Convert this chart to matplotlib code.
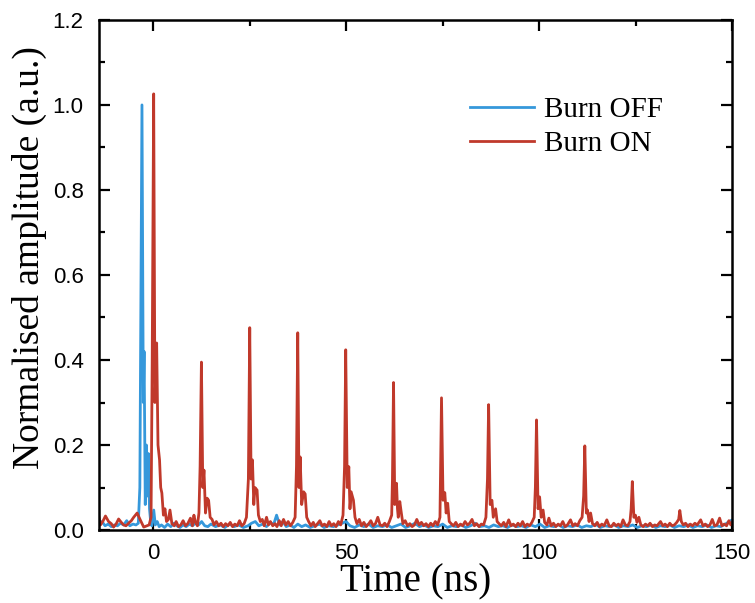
import matplotlib
matplotlib.use('Agg')
import matplotlib.pyplot as plt
from matplotlib.ticker import MultipleLocator, FormatStrFormatter

# Burn OFF trace (time in ns, normalised amplitude)
t_off = [-14.0, -13.2, -12.4, -11.6, -10.8, -10.0, -9.2, -8.4, -7.6, -6.8, -6.0, -5.2, -4.4, -3.8,
         -3.4, -2.85, -2.5, -2.3, -2.0, -1.7, -1.45, -1.2, -0.9, -0.6, -0.3,
         0.2, 0.6, 1.1, 1.6, 2.2, 3.0, 3.8, 4.6, 5.4, 6.2, 7.0, 7.8, 8.6, 9.4, 10.2, 11.0, 11.8,
         12.6, 13.4, 14.2, 15.0, 16.2, 17.4, 18.6, 19.8, 21.0, 22.2, 23.4, 24.6, 25.5, 26.5, 27.4,
         28.4, 29.4, 30.4, 31.2, 32.0, 32.8, 33.6, 34.5, 35.5, 36.5, 37.5, 38.5, 39.5, 40.7, 41.9,
         43.1, 44.3, 45.5, 46.7, 47.9, 49.0, 50.0, 51.0, 52.2, 53.4, 54.6, 55.8, 57.0, 58.2, 59.4,
         60.6, 61.8, 63.0, 64.2, 65.4, 66.6, 67.8, 69.0, 70.2, 71.4, 72.6, 73.8, 75.0, 76.2, 77.4,
         78.6, 79.8, 81.0, 82.2, 83.4, 84.6, 85.8, 87.0, 88.2, 89.4, 90.6, 91.8, 93.0, 94.2, 95.4,
         96.6, 97.8, 99.0, 100.2, 101.4, 102.6, 103.8, 105.0, 106.2, 107.4, 108.6, 109.8, 111.0,
         112.2, 113.4, 114.6, 115.8, 117.0, 118.2, 119.4, 120.6, 121.8, 123.0, 124.2, 125.4, 126.6,
         127.8, 129.0, 130.2, 131.4, 132.6, 133.8, 135.0, 136.2, 137.4, 138.6, 139.8, 141.0, 142.2,
         143.4, 144.6, 145.8, 147.0, 148.2, 149.2, 150.0]
a_off = [0.012, 0.020, 0.010, 0.014, 0.008, 0.012, 0.010, 0.016, 0.012, 0.022, 0.010, 0.014, 0.012, 0.016,
         0.10, 1.0, 0.30, 0.42, 0.06, 0.20, 0.08, 0.18, 0.05, 0.02, 0.010,
         0.047, 0.012, 0.020, 0.008, 0.012, 0.006, 0.014, 0.008, 0.016, 0.010, 0.006, 0.012, 0.008,
         0.014, 0.010, 0.016, 0.012, 0.020, 0.010, 0.008, 0.014, 0.008, 0.012, 0.006, 0.014, 0.008,
         0.012, 0.006, 0.010, 0.016, 0.020, 0.010, 0.014, 0.008, 0.018, 0.012, 0.035, 0.012, 0.020,
         0.008, 0.012, 0.006, 0.014, 0.008, 0.012, 0.006, 0.010, 0.014, 0.006, 0.010, 0.008, 0.012,
         0.016, 0.020, 0.010, 0.006, 0.012, 0.008, 0.014, 0.006, 0.010, 0.008, 0.012, 0.006, 0.010,
         0.014, 0.006, 0.010, 0.016, 0.008, 0.012, 0.006, 0.010, 0.008, 0.014, 0.006, 0.010, 0.008,
         0.012, 0.006, 0.010, 0.016, 0.008, 0.010, 0.006, 0.012, 0.008, 0.010, 0.006, 0.012, 0.008,
         0.010, 0.006, 0.012, 0.008, 0.014, 0.006, 0.010, 0.008, 0.012, 0.006, 0.010, 0.008, 0.012,
         0.006, 0.010, 0.008, 0.014, 0.006, 0.010, 0.008, 0.012, 0.006, 0.010, 0.008, 0.012, 0.006,
         0.010, 0.008, 0.012, 0.006, 0.010, 0.008, 0.012, 0.006, 0.010, 0.008, 0.012, 0.006, 0.010,
         0.008, 0.012, 0.006, 0.010, 0.008, 0.014, 0.020, 0.024]

# Burn ON trace
t_on = [-14.0, -13.6, -13.0, -12.3, -11.5, -10.8, -10.2, -9.5, -8.9, -8.2, -7.6, -7.0, -6.3, -5.6,
        -5.0, -4.1, -3.3, -2.4, -1.6, -1.0, -0.5, -0.2, 0.18, 0.5, 0.95, 1.3, 1.7, 2.0, 2.3, 2.7,
        3.1, 3.5, 4.0, 4.4, 4.9, 5.5, 6.0, 6.6, 7.2, 7.8, 8.4, 9.0, 9.7, 10.2, 10.6, 11.0, 11.5,
        11.9, 12.2, 12.54, 12.9, 13.2, 13.6, 14.0, 14.4, 14.8, 15.3, 15.8, 16.4, 17.0, 17.6, 18.2,
        18.8, 19.4, 20.0, 20.6, 21.2, 21.8, 22.4, 23.0, 23.6, 24.2, 24.7, 25.05, 25.4, 25.75, 26.1,
        26.4, 26.95, 27.3, 27.8, 28.3, 28.8, 29.4, 29.9, 30.4, 31.0, 31.6, 32.1, 32.7, 33.2, 33.8,
        34.4, 35.0, 35.6, 36.2, 36.8, 37.15, 37.48, 37.8, 38.1, 38.5, 39.0, 39.4, 39.8, 40.3, 40.9,
        41.5, 42.0, 42.6, 43.2, 43.8, 44.4, 45.0, 45.6, 46.2, 46.8, 47.4, 48.0, 48.6, 49.2, 49.6,
        49.9, 50.3, 50.7, 51.0, 51.3, 51.9, 52.3, 52.8, 53.4, 54.0, 54.6, 55.2, 55.8, 56.4, 57.0,
        57.6, 58.2, 58.8, 59.4, 60.0, 60.6, 61.2, 61.8, 62.0, 62.28, 62.6, 63.05, 63.3, 63.5, 63.9,
        64.3, 64.7, 65.3, 65.9, 66.5, 67.1, 67.7, 68.3, 68.9, 69.5, 70.1, 70.7, 71.3, 71.9, 72.5,
        73.1, 73.7, 74.3, 74.7, 75.1, 75.55, 75.9, 76.3, 76.7, 77.2, 77.8, 78.4, 79.0, 79.6, 80.2,
        80.8, 81.4, 82.0, 82.6, 83.2, 83.8, 84.4, 85.0, 85.6, 86.2, 86.6, 86.9, 87.3, 87.75, 88.1,
        88.7, 89.1, 89.6, 90.2, 90.8, 91.4, 92.1, 92.7, 93.3, 93.9, 94.5, 95.1, 95.7, 96.3, 96.9,
        97.5, 98.1, 98.7, 99.0, 99.3, 99.7, 100.1, 100.5, 101.0, 101.4, 102.0, 102.5, 103.1, 103.7,
        104.3, 104.9, 105.5, 106.1, 106.7, 107.3, 108.1, 108.7, 109.3, 109.9, 110.5, 111.1, 111.5,
        111.8, 112.2, 112.5, 112.9, 113.3, 113.8, 114.4, 115.0, 115.6, 116.2, 116.8, 117.5, 118.1,
        118.7, 119.3, 119.9, 120.5, 121.1, 121.7, 122.3, 122.9, 123.5, 123.8, 124.1, 124.5, 124.9,
        125.3, 125.8, 126.3, 126.9, 127.5, 128.1, 128.7, 129.3, 129.9, 130.5, 131.4, 132.0, 132.6,
        133.2, 133.8, 134.4, 135.0, 135.6, 136.1, 136.4, 136.8, 137.3, 137.9, 138.5, 139.1, 139.7,
        140.3, 140.9, 141.8, 142.4, 143.0, 143.6, 144.2, 144.8, 145.4, 146.0, 146.7, 147.3, 147.9,
        148.5, 149.1, 149.6, 150.0]
a_on = [0.030, 0.012, 0.020, 0.033, 0.020, 0.015, 0.007, 0.015, 0.026, 0.018, 0.012, 0.010, 0.016, 0.022,
        0.030, 0.040, 0.024, 0.007, 0.010, 0.012, 0.030, 0.40, 1.026, 0.30, 0.44, 0.20, 0.165, 0.10,
        0.087, 0.035, 0.050, 0.020, 0.025, 0.047, 0.015, 0.010, 0.020, 0.008, 0.012, 0.022, 0.010,
        0.015, 0.028, 0.010, 0.035, 0.018, 0.010, 0.040, 0.15, 0.395, 0.10, 0.141, 0.04, 0.075,
        0.070, 0.030, 0.025, 0.012, 0.020, 0.010, 0.016, 0.008, 0.015, 0.010, 0.018, 0.008, 0.014,
        0.010, 0.022, 0.010, 0.015, 0.030, 0.12, 0.476, 0.12, 0.165, 0.06, 0.100, 0.094, 0.035,
        0.020, 0.025, 0.010, 0.030, 0.012, 0.020, 0.010, 0.015, 0.008, 0.022, 0.010, 0.025, 0.012,
        0.020, 0.010, 0.018, 0.030, 0.15, 0.464, 0.10, 0.172, 0.06, 0.090, 0.085, 0.030, 0.020,
        0.010, 0.018, 0.008, 0.015, 0.022, 0.010, 0.014, 0.008, 0.020, 0.010, 0.015, 0.008, 0.020,
        0.012, 0.035, 0.15, 0.424, 0.10, 0.149, 0.05, 0.090, 0.070, 0.030, 0.015, 0.025, 0.010,
        0.018, 0.008, 0.014, 0.022, 0.010, 0.015, 0.030, 0.012, 0.010, 0.016, 0.008, 0.020, 0.035,
        0.12, 0.347, 0.06, 0.110, 0.05, 0.030, 0.067, 0.040, 0.015, 0.022, 0.010, 0.015, 0.008,
        0.012, 0.025, 0.012, 0.018, 0.010, 0.015, 0.008, 0.016, 0.010, 0.020, 0.012, 0.030, 0.311,
        0.07, 0.088, 0.04, 0.063, 0.02, 0.015, 0.010, 0.018, 0.008, 0.014, 0.010, 0.020, 0.012,
        0.016, 0.025, 0.010, 0.015, 0.008, 0.014, 0.012, 0.030, 0.12, 0.295, 0.06, 0.070, 0.03,
        0.050, 0.020, 0.015, 0.010, 0.018, 0.008, 0.024, 0.010, 0.014, 0.008, 0.016, 0.010, 0.020,
        0.008, 0.014, 0.010, 0.018, 0.030, 0.10, 0.259, 0.05, 0.078, 0.03, 0.047, 0.018, 0.012,
        0.028, 0.010, 0.016, 0.008, 0.014, 0.010, 0.020, 0.008, 0.012, 0.024, 0.010, 0.015, 0.010,
        0.022, 0.030, 0.08, 0.198, 0.04, 0.047, 0.020, 0.040, 0.015, 0.010, 0.018, 0.008, 0.014,
        0.010, 0.024, 0.010, 0.008, 0.016, 0.010, 0.014, 0.008, 0.024, 0.012, 0.010, 0.020, 0.05,
        0.114, 0.03, 0.035, 0.018, 0.030, 0.012, 0.008, 0.014, 0.010, 0.016, 0.008, 0.012, 0.010,
        0.020, 0.010, 0.014, 0.008, 0.016, 0.010, 0.012, 0.018, 0.025, 0.046, 0.020, 0.012, 0.016,
        0.008, 0.014, 0.010, 0.016, 0.012, 0.024, 0.010, 0.014, 0.008, 0.012, 0.025, 0.010, 0.012,
        0.028, 0.010, 0.014, 0.010, 0.022, 0.012, 0.018]

labels = ['Burn OFF', 'Burn ON']
colors = ['#3598db', '#c0392b']

fig = plt.figure(figsize=(7.55, 6.03), dpi=100)
ax = fig.add_axes([0.131, 0.121, 0.839, 0.846])

ax.plot(t_off, a_off, color=colors[0], lw=2.0, label=labels[0])
ax.plot(t_on, a_on, color=colors[1], lw=2.0, label=labels[1])

ax.set_xlim(-14, 150)
ax.set_ylim(0, 1.2)
ax.xaxis.set_major_locator(MultipleLocator(50))
ax.xaxis.set_minor_locator(MultipleLocator(25))
ax.yaxis.set_major_locator(MultipleLocator(0.2))
ax.yaxis.set_minor_locator(MultipleLocator(0.1))
ax.yaxis.set_major_formatter(FormatStrFormatter('%.1f'))

ax.tick_params(which='both', direction='in', top=True, right=True, width=1.6)
ax.tick_params(which='major', length=8, labelsize=16)
ax.tick_params(which='minor', length=4)
ax.tick_params(axis='y', which='major', pad=11)
ax.tick_params(axis='x', which='major', pad=9)
for lab in ax.get_xticklabels() + ax.get_yticklabels():
    lab.set_fontfamily('Liberation Sans')
for s in ax.spines.values():
    s.set_linewidth(1.8)

ax.set_xlabel('Time (ns)', fontfamily='Liberation Serif', fontsize=28, labelpad=0)
ax.set_ylabel('Normalised amplitude (a.u.)', fontfamily='Liberation Serif', fontsize=27, labelpad=4)
ax.yaxis.label.set_y(0.535)

ax.legend(loc='upper left', bbox_to_anchor=(0.544, 0.901), frameon=False,
          prop={'family': 'Liberation Serif', 'size': 21}, handlelength=2.2,
          labelspacing=0.25, handletextpad=0.35)

fig.savefig('out.png', dpi=100)
